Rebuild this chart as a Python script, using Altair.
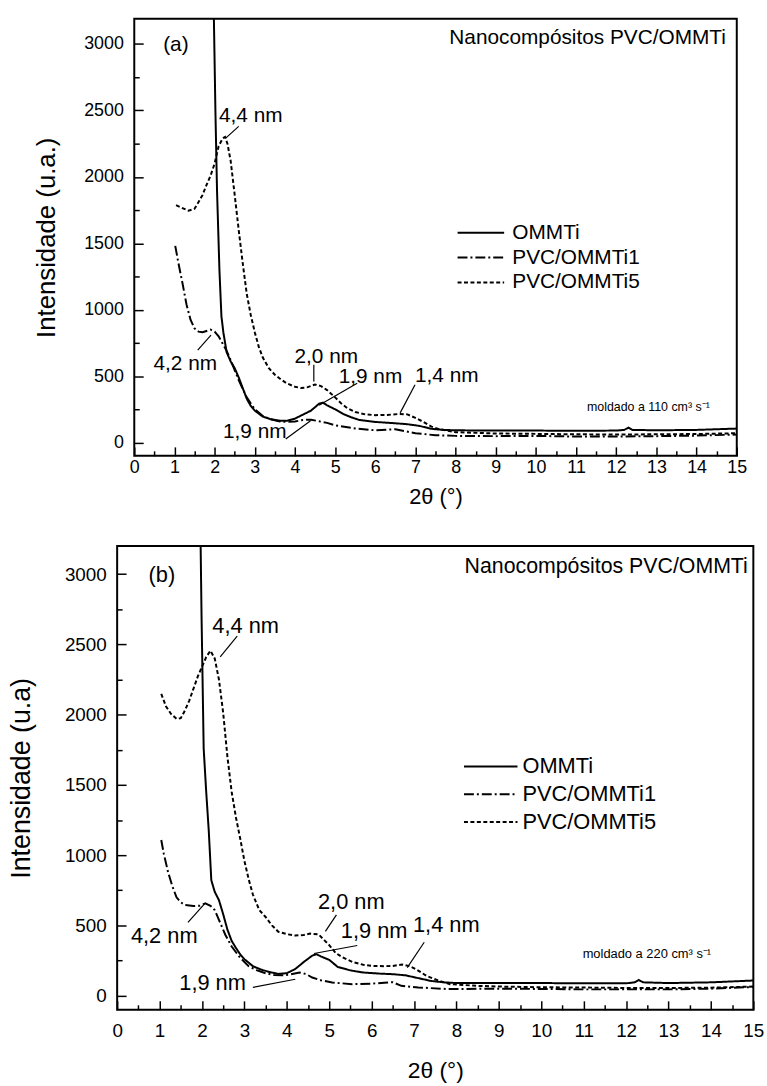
import altair as alt
import pandas as pd

FONT = "Liberation Sans, Arial, Helvetica, sans-serif"
SERIES = ["OMMTi", "PVC/OMMTi1", "PVC/OMMTi5"]
X_TICKS = list(range(0, 16))
X_MINOR = [i + 0.5 for i in range(0, 15)]
Y_TICKS = [0, 500, 1000, 1500, 2000, 2500, 3000]
Y_MINOR = [250, 750, 1250, 1750, 2250, 2750]

# ---------------- panel (a): moldado a 110 cm3/s ----------------
a_ommti_x = [1.97, 1.99, 2.02, 2.06, 2.12, 2.17, 2.22, 2.3, 2.4, 2.5, 2.6, 2.7, 2.8, 2.9, 3.0,
             3.2, 3.4, 3.6, 3.8, 4.0, 4.2, 4.4, 4.6, 4.7, 4.8, 5.0, 5.2, 5.4, 5.6,
             6.0, 6.4, 6.8, 7.1, 7.4, 7.7, 8.0, 9.0, 10.0, 11.0, 12.0, 12.2, 12.3, 12.4, 13.0, 14.0, 15.0]
a_ommti_y = [3400, 3050, 2500, 1900, 1300, 950, 825, 680, 610, 560, 490, 410, 330, 275, 240,
             195, 175, 165, 163, 180, 210, 240, 292, 300, 280, 250, 215, 190, 170,
             155, 147, 138, 125, 103, 95, 92, 90, 90, 88, 90, 95, 112, 95, 92, 95, 105]
a_pvc1_x = [1.02, 1.1, 1.2, 1.3, 1.4, 1.5, 1.6, 1.7, 1.8, 1.9, 2.0, 2.1, 2.2, 2.3, 2.4, 2.5, 2.6,
            2.8, 3.0, 3.2, 3.4, 3.6, 3.8, 4.0, 4.2, 4.4, 4.6, 4.8, 5.0, 5.5, 6.0, 6.5, 7.0, 7.5,
            8.0, 9.0, 10.0, 11.0, 12.0, 13.0, 14.0, 15.0]
a_pvc1_y = [1480, 1350, 1200, 1040, 925, 860, 835, 830, 840, 850, 835, 800, 745, 690, 620, 545, 470,
            340, 250, 200, 175, 160, 155, 158, 170, 172, 160, 148, 130, 106, 92, 100, 70, 55,
            50, 48, 50, 45, 45, 48, 52, 60]
a_pvc5_x = [1.04, 1.2, 1.35, 1.5, 1.6, 1.7, 1.8, 1.9, 2.0, 2.1, 2.2, 2.26, 2.32, 2.4, 2.5, 2.6, 2.7,
            2.8, 2.9, 3.0, 3.1, 3.2, 3.35, 3.5, 3.65, 3.8, 4.0, 4.15, 4.3, 4.5, 4.65, 4.8, 5.0,
            5.15, 5.3, 5.5, 5.75, 6.0, 6.3, 6.6, 6.8, 7.0, 7.2, 7.4, 7.6, 8.0, 9.0, 10.0, 11.0,
            12.0, 13.0, 14.0, 15.0]
a_pvc5_y = [1787, 1765, 1745, 1760, 1810, 1864, 1940, 2010, 2100, 2230, 2290, 2300, 2250, 2120, 1864,
            1600, 1350, 1120, 960, 830, 720, 640, 560, 510, 475, 445, 420, 410, 415, 437, 425, 395,
            340, 295, 260, 230, 212, 206, 208, 215, 212, 185, 155, 120, 100, 78, 68, 65, 62,
            60, 62, 64, 70]

a_nm_labels = ["4,4 nm", "4,2 nm", "2,0 nm", "1,9 nm", "1,4 nm", "1,9 nm"]
a_nm_x = [2.90, 1.27, 4.78, 5.88, 7.78, 3.00]
a_nm_y = [2455, 587, 646, 490, 497, 81]
a_lead_x = [2.27, 1.58, 4.47, 4.60, 6.62, 3.77]
a_lead_y = [2290, 696, 585, 281, 223, 27]
a_lead_x2 = [2.60, 1.91, 4.47, 5.55, 6.99, 4.39]
a_lead_y2 = [2380, 808, 460, 447, 435, 164]
a_tag = "(a)"
a_title = "Nanocompósitos PVC/OMMTi"
a_note = "moldado a 110 cm³ s⁻¹"
a_ytitle = "Intensidade (u.a.)"

# ---------------- panel (b): moldado a 220 cm3/s ----------------
b_ommti_x = [1.96, 1.99, 2.04, 2.1, 2.16, 2.22, 2.3, 2.4, 2.5, 2.6, 2.7, 2.8, 2.9, 3.0, 3.2, 3.4,
             3.6, 3.8, 4.0, 4.2, 4.4, 4.6, 4.7, 4.8, 5.0, 5.2, 5.5, 5.8, 6.2, 6.5, 6.8, 7.1, 7.4,
             7.7, 8.0, 9.0, 10.0, 11.0, 12.0, 12.2, 12.3, 12.4, 13.0, 14.0, 15.0]
b_ommti_y = [3400, 2700, 1760, 1450, 1174, 822, 740, 680, 580, 470, 390, 340, 295, 260, 210, 185,
             168, 155, 160, 190, 240, 285, 295, 280, 255, 205, 180, 165, 157, 153, 145, 125, 105,
             95, 90, 90, 90, 88, 88, 95, 112, 95, 90, 95, 108]
b_pvc1_x = [1.04, 1.1, 1.2, 1.3, 1.4, 1.5, 1.6, 1.8, 1.95, 2.08, 2.2, 2.3, 2.4, 2.55, 2.7, 2.9,
            3.1, 3.3, 3.5, 3.7, 3.9, 4.1, 4.3, 4.45, 4.6, 4.8, 5.07, 5.54, 6.0, 6.3, 6.5, 6.7,
            7.1, 7.8, 9.0, 10.0, 11.0, 12.0, 13.0, 14.0, 15.0]
b_pvc1_y = [1108, 1010, 880, 780, 700, 665, 645, 638, 640, 657, 640, 610, 540, 434, 350, 270,
            210, 180, 160, 148, 145, 152, 165, 155, 129, 110, 94, 82, 86, 92, 96, 70,
            59, 47, 50, 48, 45, 45, 45, 50, 62]
b_pvc5_x = [1.04, 1.15, 1.27, 1.4, 1.5, 1.6, 1.7, 1.8, 1.9, 2.0, 2.1, 2.2, 2.3, 2.4, 2.5, 2.6,
            2.7, 2.8, 2.9, 3.0, 3.1, 3.2, 3.35, 3.5, 3.65, 3.8, 4.0, 4.2, 4.4, 4.55, 4.75, 4.9,
            5.0, 5.15, 5.3, 5.55, 5.8, 6.0, 6.3, 6.5, 6.72, 6.9, 7.05, 7.3, 7.6, 7.85, 8.5, 9.0,
            10.0, 11.0, 12.0, 13.0, 14.0, 15.0]
b_pvc5_y = [2148, 2060, 2005, 1970, 1975, 2030, 2100, 2185, 2270, 2340, 2410, 2455, 2400, 2250,
            2013, 1700, 1450, 1270, 1120, 960, 830, 720, 610, 560, 500, 455, 438, 428, 432, 442,
            436, 390, 360, 305, 275, 240, 220, 212, 210, 212, 222, 210, 188, 140, 105, 82, 70,
            65, 60, 58, 55, 55, 57, 65]

b_nm_labels = ["4,4 nm", "4,2 nm", "2,0 nm", "1,9 nm", "1,4 nm", "1,9 nm"]
b_nm_x = [3.03, 1.11, 5.52, 6.06, 7.76, 2.25]
b_nm_y = [2627, 423, 669, 458, 505, 89]
b_lead_x = [2.43, 1.67, 5.17, 4.64, 7.24, 3.20]
b_lead_y = [2411, 521, 575, 300, 380, 59]
b_lead_x2 = [2.83, 2.06, 4.91, 5.66, 6.84, 4.20]
b_lead_y2 = [2558, 653, 458, 357, 200, 117]
b_tag = "(b)"
b_title = "Nanocompósitos PVC/OMMTi"
b_note = "moldado a 220 cm³ s⁻¹"
b_ytitle = "Intensidade (u.a)"

# legend glyph: a horizontal stroke twice as long as the nominal symbol box
LEGEND_STROKE = "M-2,0L2,0"


def series_df(xs_list, ys_list):
    rows = []
    for name, xs, ys in zip(SERIES, xs_list, ys_list):
        assert len(xs) == len(ys), name
        for x, y in zip(xs, ys):
            rows.append({"x": x, "y": y, "serie": name})
    return pd.DataFrame(rows)


def panel(df, ann, P):
    xsc = alt.Scale(domain=[0, 15], nice=False, zero=False)
    ysc = alt.Scale(domain=P["ydom"], nice=False, zero=False)

    half = P["sym_len"] / 2.0          # nominal symbol box width
    base = alt.Chart(df)
    lines = base.mark_line(strokeWidth=2, clip=True, color="black").encode(
        x=alt.X("x:Q", scale=xsc, axis=alt.Axis(
            orient="bottom", values=X_TICKS, format="d", ticks=False, domain=False, grid=False,
            labelFont=FONT, labelFontSize=P["tick_fs"], labelColor="black",
            labelPadding=P["xlp"], labelFlush=False,
            title="2θ (°)", titleFont=FONT, titleFontSize=P["xt_fs"], titleFontWeight="normal",
            titleColor="black", titlePadding=P["xtp"])),
        y=alt.Y("y:Q", scale=ysc, axis=alt.Axis(
            orient="left", values=Y_TICKS, format="d", ticks=False, domain=False, grid=False,
            labelFont=FONT, labelFontSize=P["tick_fs"], labelColor="black",
            labelPadding=P["ylp"], labelFlush=False,
            title=P["ytitle"], titleFont=FONT, titleFontSize=P["yt_fs"], titleFontWeight="normal",
            titleColor="black", titlePadding=P["ytp"])),
        strokeDash=alt.StrokeDash("serie:N", scale=alt.Scale(
            domain=SERIES, range=[[1, 0], [10, 3, 2, 3], [4, 2.5]]),
            legend=alt.Legend(
                title=None, orient="none", legendX=P["legx"] + half / 2.0, legendY=P["legy"],
                symbolType=LEGEND_STROKE, symbolSize=half * half, symbolStrokeWidth=2,
                symbolStrokeColor="black", symbolFillColor="transparent",
                labelFont=FONT, labelFontSize=P["leg_fs"],
                labelColor="black", labelOffset=P["lego"] + half / 2.0, rowPadding=P["legrp"],
                padding=0, labelLimit=300)),
    )

    def tick_layer(xv, xs, yv, ys):
        return base.mark_line(strokeOpacity=0, clip=True).encode(
            x=alt.X("x:Q", scale=xsc, axis=alt.Axis(
                orient="bottom", values=xv, tickSize=xs, offset=-xs, labels=False,
                domain=False, grid=False, title=None, tickColor="black", tickWidth=1.5)),
            y=alt.Y("y:Q", scale=ysc, axis=alt.Axis(
                orient="left", values=yv, tickSize=ys, offset=-ys, labels=False,
                domain=False, grid=False, title=None, tickColor="black", tickWidth=1.5)),
        )

    major = tick_layer(X_TICKS, P["maj"], Y_TICKS, P["maj"])
    minor = tick_layer(X_MINOR, P["min"], Y_MINOR, P["min"])

    nm = pd.DataFrame({"label": ann["labels"], "x": ann["x"], "y": ann["y"]})
    leads = pd.DataFrame({"x": ann["lx"], "y": ann["ly"], "x2": ann["lx2"], "y2": ann["ly2"]})
    noax_x = alt.X("x:Q", scale=xsc, axis=None)
    noax_y = alt.Y("y:Q", scale=ysc, axis=None)

    rules = alt.Chart(leads).mark_rule(color="black", strokeWidth=1.2).encode(
        x=noax_x, y=noax_y, x2="x2:Q", y2="y2:Q")
    texts = alt.Chart(nm).mark_text(font=FONT, fontSize=P["ann_fs"], color="black",
                                    align="center", baseline="middle").encode(
        x=noax_x, y=noax_y, text="label:N")
    tag = alt.Chart(pd.DataFrame({"label": [ann["tag"]], "x": [P["tagx"]], "y": [P["tagy"]]})).mark_text(
        font=FONT, fontSize=P["ann_fs"], color="black", align="left", baseline="middle").encode(
        x=noax_x, y=noax_y, text="label:N")
    title = alt.Chart(pd.DataFrame({"label": [ann["title"]], "x": [P["titx"]], "y": [P["tity"]]})).mark_text(
        font=FONT, fontSize=P["tit_fs"], color="black", align="right", baseline="alphabetic").encode(
        x=noax_x, y=noax_y, text="label:N")
    note = alt.Chart(pd.DataFrame({"label": [ann["note"]], "x": [P["notx"]], "y": [P["noty"]]})).mark_text(
        font=FONT, fontSize=P["note_fs"], color="black", align="center", baseline="middle").encode(
        x=noax_x, y=noax_y, text="label:N")

    return alt.layer(lines, major, minor, rules, texts, tag, title, note).resolve_axis(
        x="independent", y="independent").properties(width=P["w"], height=P["h"])


df_a = series_df([a_ommti_x, a_pvc1_x, a_pvc5_x], [a_ommti_y, a_pvc1_y, a_pvc5_y])
df_b = series_df([b_ommti_x, b_pvc1_x, b_pvc5_x], [b_ommti_y, b_pvc1_y, b_pvc5_y])

ann_a = dict(labels=a_nm_labels, x=a_nm_x, y=a_nm_y, lx=a_lead_x, ly=a_lead_y,
             lx2=a_lead_x2, ly2=a_lead_y2, tag=a_tag, title=a_title, note=a_note)
ann_b = dict(labels=b_nm_labels, x=b_nm_x, y=b_nm_y, lx=b_lead_x, ly=b_lead_y,
             lx2=b_lead_x2, ly2=b_lead_y2, tag=b_tag, title=b_title, note=b_note)

P_a = dict(w=608, h=441, ydom=[-100, 3190], tick_fs=18, xt_fs=22, yt_fs=26,
           xlp=3, xtp=10, ylp=11, ytp=24, ytitle=a_ytitle,
           legx=325, legy=203, sym_len=47, leg_fs=21, lego=7, legrp=2,
           maj=9, min=5, ann_fs=21, tit_fs=21, note_fs=12.5,
           tagx=0.72, tagy=2995, titx=14.73, tity=2997, notx=12.8, noty=268)
P_b = dict(w=642, h=468, ydom=[-100, 3200], tick_fs=19, xt_fs=23, yt_fs=27,
           xlp=12, xtp=19, ylp=11, ytp=29, ytitle=b_ytitle,
           legx=349, legy=208, sym_len=54, leg_fs=22, lego=4, legrp=2,
           maj=9, min=5, ann_fs=22, tit_fs=21.5, note_fs=13,
           tagx=0.74, tagy=2990, titx=14.87, tity=3010, notx=12.49, noty=295)

top = panel(df_a, ann_a, P_a)
bottom = panel(df_b, ann_b, P_b)

chart = alt.vconcat(top, bottom, spacing=37, center=True).resolve_scale(
    strokeDash="independent").resolve_legend(strokeDash="independent").properties(
    padding={"left": 6, "top": 13, "right": 2, "bottom": 0}, background="white"
).configure_view(stroke="black", strokeWidth=2)

chart.save("out.html", embed_options={"renderer": "svg", "actions": False})
